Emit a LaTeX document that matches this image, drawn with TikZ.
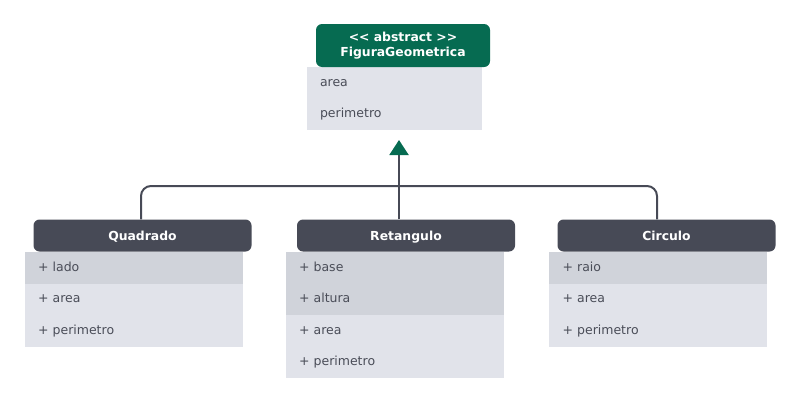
\documentclass[tikz,border=0pt]{standalone}
\usepackage{fontspec}
\setmainfont{DejaVu Sans}
\usetikzlibrary{arrows.meta,positioning}
\definecolor{umlgreen}{HTML}{066B51}
\definecolor{umlhead}{HTML}{474A56}
\definecolor{umlrow}{HTML}{E1E3EA}
\definecolor{umlkey}{HTML}{D0D3DA}
\definecolor{umltext}{HTML}{4A4D58}
\newcommand{\ltlt}{\textless\kern0pt\textless}
\newcommand{\gtgt}{\textgreater\kern0pt\textgreater}
\tikzset{%
   hdr/.style={rectangle, rounded corners=6pt, fill=umlhead, text=white, inner sep=0pt,
      font=\fontsize{12.4}{15}\selectfont\bfseries, minimum width=218pt, minimum height=32pt,
      text height=9pt, text depth=0pt},
   abshdr/.style={hdr, fill=umlgreen, minimum width=174pt, minimum height=43pt, align=center,
      text height=, text depth=},
   row/.style={rectangle, fill=umlrow, text=umltext, font=\fontsize{12.5}{15}\selectfont,
      minimum width=218pt, minimum height=31.5pt, text width=191pt, inner xsep=13.5pt,
      inner ysep=0pt, outer sep=0pt, align=left, text height=9.3pt, text depth=2.7pt},
   keyrow/.style={row, fill=umlkey},
   toprow/.style={row, minimum width=175pt, text width=149pt, inner xsep=13pt},
   link/.style={draw=umlhead, line width=2pt},
}

\begin{document}
\begin{tikzpicture}[x=1pt, y=-1pt]
   \useasboundingbox (0,0) rectangle (800,402);
   % abstract class
   \node[toprow, anchor=north west] (farea) at (307,67) {area};
   \node[toprow, below=0pt of farea] (fperim) {perimetro};
   \node[abshdr] (fhead) at (403,45.5) {\ltlt\ abstract \gtgt\\FiguraGeometrica};
   % Quadrado
   \node[keyrow, anchor=north west] (qlado) at (24.5,252) {+ lado};
   \node[row, below=0pt of qlado] (qarea) {+ area};
   \node[row, below=0pt of qarea] (qperim) {+ perimetro};
   \node[hdr] (qhead) at (142.5,235.5) {Quadrado};
   % Retangulo
   \node[keyrow, anchor=north west] (rbase) at (285.5,252) {+ base};
   \node[keyrow, below=0pt of rbase] (raltura) {+ altura};
   \node[row, below=0pt of raltura] (rarea) {+ area};
   \node[row, below=0pt of rarea] (rperim) {+ perimetro};
   \node[hdr] (rhead) at (406,235.5) {Retangulo};
   % Circulo
   \node[keyrow, anchor=north west] (craio) at (549,252) {+ raio};
   \node[row, below=0pt of craio] (carea) {+ area};
   \node[row, below=0pt of carea] (cperim) {+ perimetro};
   \node[hdr] (chead) at (666.5,235.5) {Circulo};
   % inheritance
   \coordinate (bus) at (399,186);
   \draw[link, rounded corners=10pt] ([xshift=-1.5pt]qhead.north) |- (bus) -| ([xshift=-9.5pt]chead.north);
   \draw[link, -{Triangle[width=19pt, length=15pt, color=umlgreen]}, shorten >=10pt]
      ([xshift=-7pt]rhead.north) -- ([xshift=-7pt]rhead.north |- fperim.south);
\end{tikzpicture}
\end{document}
